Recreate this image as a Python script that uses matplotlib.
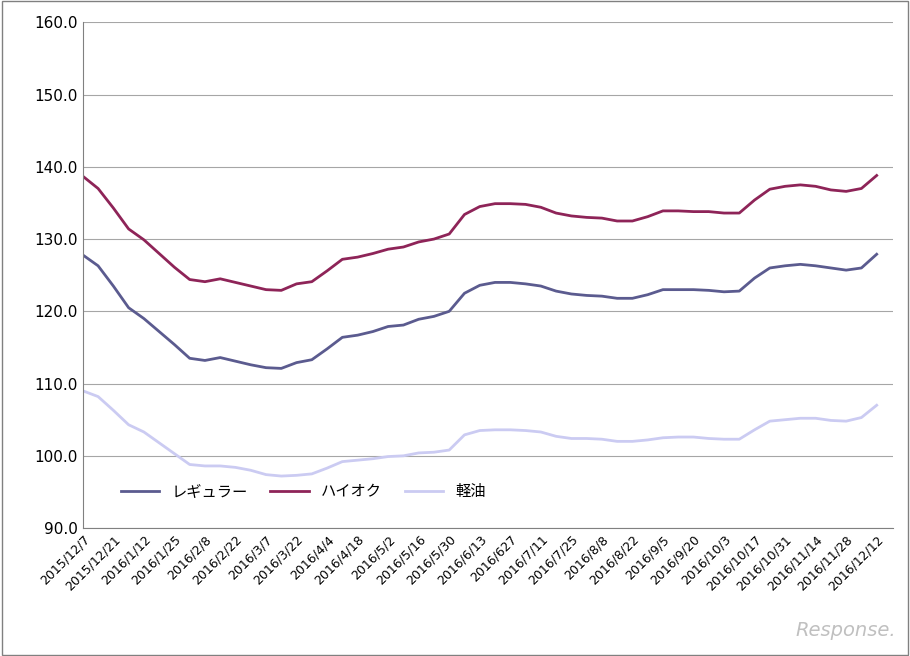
import matplotlib
matplotlib.use("Agg")
import matplotlib.pyplot as plt

labels = ["2015/12/7","2015/12/21","2016/1/12","2016/1/25","2016/2/8","2016/2/22","2016/3/7","2016/3/22",
          "2016/4/4","2016/4/18","2016/5/2","2016/5/16","2016/5/30","2016/6/13","2016/627","2016/7/11",
          "2016/7/25","2016/8/8","2016/8/22","2016/9/5","2016/9/20","2016/10/3","2016/10/17","2016/10/31",
          "2016/11/14","2016/11/28","2016/12/12"]

regular = [127.8,126.3,123.5,120.5,119.0,117.2,115.4,113.5,113.2,113.6,113.1,112.6,112.2,112.1,112.9,113.3,
           114.8,116.4,116.7,117.2,117.9,118.1,118.9,119.3,120.0,122.5,123.6,124.0,124.0,123.8,123.5,122.8,
           122.4,122.2,122.1,121.8,121.8,122.3,123.0,123.0,123.0,122.9,122.7,122.8,124.6,126.0,126.3,126.5,
           126.3,126.0,125.7,126.0,127.9]
highoc = [138.7,137.0,134.3,131.4,129.9,128.0,126.1,124.4,124.1,124.5,124.0,123.5,123.0,122.9,123.8,124.1,
          125.6,127.2,127.5,128.0,128.6,128.9,129.6,130.0,130.7,133.4,134.5,134.9,134.9,134.8,134.4,133.6,
          133.2,133.0,132.9,132.5,132.5,133.1,133.9,133.9,133.8,133.8,133.6,133.6,135.4,136.9,137.3,137.5,
          137.3,136.8,136.6,137.0,138.8]
diesel = [109.0,108.2,106.3,104.3,103.3,101.8,100.3,98.8,98.6,98.6,98.4,98.0,97.4,97.2,97.3,97.5,98.3,99.2,
          99.4,99.6,99.9,100.0,100.4,100.5,100.8,102.9,103.5,103.6,103.6,103.5,103.3,102.7,102.4,102.4,102.3,
          102.0,102.0,102.2,102.5,102.6,102.6,102.4,102.3,102.3,103.6,104.8,105.0,105.2,105.2,104.9,104.8,
          105.3,107.0]
names = ["レギュラー","ハイオク","軽油"]

plt.rcParams["font.family"] = ["DejaVu Sans", "Noto Sans CJK JP"]
fig = plt.figure(figsize=(9.1, 6.56), dpi=100)
ax = fig.add_axes([0.091, 0.195, 0.890, 0.771])
x = list(range(len(regular)))
ax.plot(x, regular, color="#5b5b8f", lw=2, label=names[0])
ax.plot(x, highoc, color="#8e2458", lw=2, label=names[1])
ax.plot(x, diesel, color="#cbcbf2", lw=2, label=names[2])
ax.set_ylim(90, 160)
ax.set_yticks(range(90, 161, 10))
ax.set_yticklabels([f"{v:.1f}" for v in range(90, 161, 10)], fontsize=11)
ax.set_xlim(0, 53.05)
ax.set_xticks(range(0, len(regular), 2))
ax.set_xticklabels(labels, rotation=45, ha="right", rotation_mode="anchor", fontsize=9)
ax.grid(axis="y", color="#a6a6a6", lw=0.8)
ax.set_axisbelow(True)
for s in ["top", "right"]:
    ax.spines[s].set_visible(False)
ax.spines["left"].set_color("#808080")
ax.spines["bottom"].set_color("#808080")
ax.tick_params(axis="both", length=0)
ax.legend(loc="lower left", bbox_to_anchor=(0.03, 0.03), ncol=3, frameon=True, facecolor="white",
          edgecolor="none", fontsize=11, handlelength=2.5, columnspacing=1.5)
fig.patches.append(plt.Rectangle((0.002, 0.002), 0.996, 0.996, transform=fig.transFigure,
                                 fill=False, edgecolor="#808080", lw=1))
fig.text(0.985, 0.025, "Response.", ha="right", va="bottom", fontsize=14, color="#c0c0c0", style="italic")
fig.savefig("out.png", dpi=100)
